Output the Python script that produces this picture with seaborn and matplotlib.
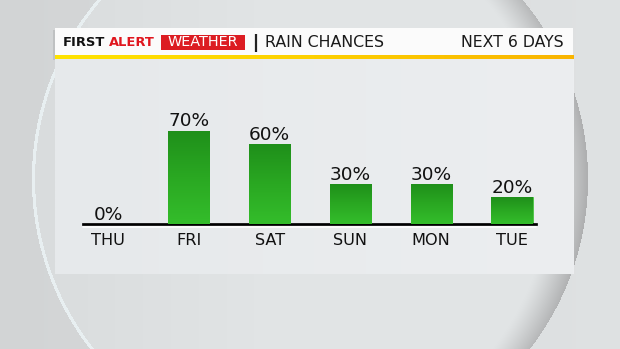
import numpy as np
import pandas as pd
import matplotlib
matplotlib.use("Agg")
import matplotlib.pyplot as plt
from matplotlib.patches import Rectangle
from matplotlib.colors import LinearSegmentedColormap, to_rgb
import seaborn as sns

# ---- data ----
days = ["THU", "FRI", "SAT", "SUN", "MON", "TUE"]
chances = [0, 70, 60, 30, 30, 20]
title_brand_1 = "FIRST"
title_brand_2 = "ALERT"
title_brand_3 = "WEATHER"
title_main = "RAIN CHANCES"
title_right = "NEXT 6 DAYS"

sns.set_theme(style="white")
plt.rcParams["font.family"] = ["DejaVu Sans"]

W, H = 620, 349
fig = plt.figure(figsize=(W / 100, H / 100), dpi=100)

# ---- background (pixel coordinates) ----
bg = fig.add_axes([0, 0, 1, 1])
bg.set_zorder(0)
bg.axis("off")

# decorative shaded disc behind the panel
cx, cy, r = 310, 179, 278
yy, xx = np.mgrid[0:H, 0:W] + 0.5
outside_l = np.array(to_rgb("#d2d4d5"))
outside_r = np.array(to_rgb("#dfe2e3"))
fx = (xx / W)[..., None]
img = outside_l * (1 - fx) + outside_r * fx
inner = np.array(to_rgb("#e1e4e5"))
inner_l = np.array(to_rgb("#d9dcdd"))
dark = np.array(to_rgb("#aeafb0"))
dist = np.hypot(xx - cx, yy - cy)
inside = dist <= r
d2 = np.hypot(xx - (cx - 34), yy - cy) / r
t = np.clip((d2 - 0.99) / (1.12 - 0.99), 0, 1)[..., None] ** 1.2
lx = np.clip((xx - (cx - r)) / (r * 0.8), 0, 1)[..., None]
disc = inner_l * (1 - lx) + inner * lx
disc = disc * (1 - t) + dark * t
img = np.where(inside[..., None], disc, img)
# light rim on left side
rim = (np.abs(dist - r + 1.5) < 1.6) & (xx < cx)
img = np.where(rim[..., None], np.array(to_rgb("#e8eff1")), img)
bg.imshow(img, extent=[0, W, H, 0], aspect="auto", zorder=0, interpolation="bilinear")

hgrad = np.linspace(0, 1, 256).reshape(1, -1)
vgrad = np.linspace(0, 1, 256).reshape(-1, 1)

# panel
px0, px1 = 54.5, 573
bg.add_patch(Rectangle((px0 - 2, 30), 2.5, 30, color="#9a9c9d", alpha=0.35,
                       zorder=2, lw=0))
panel_cmap = LinearSegmentedColormap.from_list("pn", ["#e6e9eb", "#eceef0"])
bg.imshow(np.tile(hgrad, (2, 1)), extent=[px0, px1, 274, 59], aspect="auto",
          cmap=panel_cmap, zorder=2.1)
# header
bg.add_patch(Rectangle((px0, 28.3), px1 - px0, 27.2, color="#fbfbfb", zorder=3, lw=0))
yel_cmap = LinearSegmentedColormap.from_list("yl", ["#ffe300", "#fdd000", "#f9b400"])
bg.imshow(np.tile(hgrad, (2, 1)), extent=[px0, px1, 59.3, 55.3], aspect="auto",
          cmap=yel_cmap, zorder=3.1)
bg.set_xlim(0, W)
bg.set_ylim(H, 0)

# header texts
ty = 42.5
bg.text(62.5, ty, title_brand_1, fontsize=9.4, fontweight="heavy",
        color="#111111", va="center", ha="left", zorder=4)
bg.text(108.5, ty, title_brand_2, fontsize=9.4, fontweight="heavy",
        color="#e0161e", va="center", ha="left", zorder=4)
bg.add_patch(Rectangle((161, 34.5), 84, 15, color="#dc1c22", zorder=3.5, lw=0))
bg.text(203, ty, title_brand_3, fontsize=10.4, color="white", va="center",
        ha="center", zorder=4)
bg.plot([256, 256], [33.5, 52], color="#222222", lw=1.6, zorder=4,
        solid_capstyle="butt")
bg.text(265, ty, title_main, fontsize=11.4, color="#1a1a1a", va="center",
        ha="left", zorder=4)
bg.text(564, ty, title_right, fontsize=11.3, color="#1a1a1a", va="center",
        ha="right", zorder=4)
# highlight under baseline
bg.plot([83, 536], [226.6, 226.6], color="#ffffff", lw=1.2, zorder=4)

# ---- bar chart ----
left, right = 83, 536
base_y, top_y = 224, 91
ax = fig.add_axes([left / W, (H - base_y) / H, (right - left) / W, (base_y - top_y) / H])
ax.set_zorder(5)
ax.patch.set_alpha(0)

df = pd.DataFrame({"day": days, "chance": chances})
sns.barplot(data=df, x="day", y="chance", ax=ax, color="#2ca524", width=0.51,
            edgecolor="#49c740", linewidth=0.6)

gcmap = LinearSegmentedColormap.from_list("g", ["#34bd2b", "#2aa822", "#1f8f1a"])
for p in ax.patches:
    h = p.get_height()
    if h <= 0:
        continue
    x0 = p.get_x()
    w = p.get_width()
    im = ax.imshow(vgrad, extent=[x0, x0 + w, 0, h], origin="lower",
                   aspect="auto", cmap=gcmap, zorder=3)
    im.set_clip_path(p)

for i, v in enumerate(chances):
    ax.annotate(f"{v}%", (i, v), xytext=(0, 3.2), textcoords="offset points",
                ha="center", va="baseline", fontsize=13.3, color="#111111")

ax.set_xlim(-0.309, 5.297)
ax.set_ylim(0, 100)
ax.set_xlabel("")
ax.set_ylabel("")
ax.set_yticks([])
for s in ["top", "right", "left"]:
    ax.spines[s].set_visible(False)
ax.spines["bottom"].set_color("#000000")
ax.spines["bottom"].set_linewidth(1.95)
ax.tick_params(axis="x", length=0, pad=6.5, labelsize=11.6, labelcolor="#111111")

fig.savefig("out.png", dpi=100)
